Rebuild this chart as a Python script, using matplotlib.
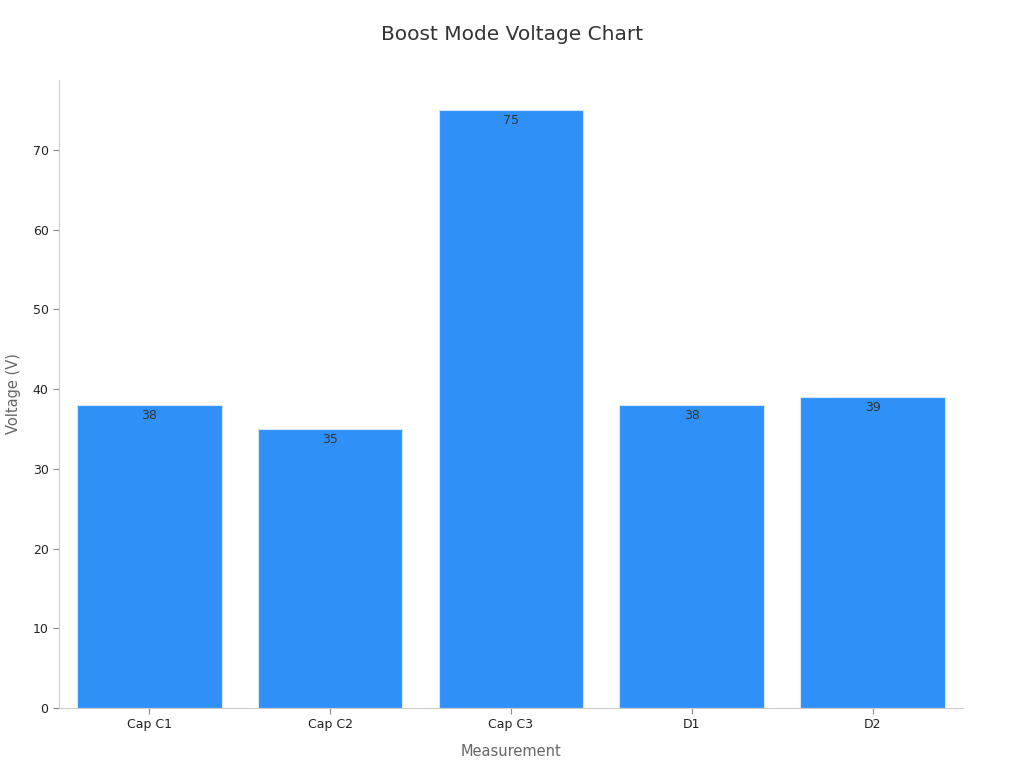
import matplotlib.pyplot as plt

# Datos del gráfico
categorias = ['Cap C1', 'Cap C2', 'Cap C3', 'D1', 'D2']
voltajes = [38, 35, 75, 38, 39]
ticks_y = [0, 10, 20, 30, 40, 50, 60, 70]

fig = plt.figure(figsize=(10.24, 7.68), dpi=100)
ax = fig.add_axes([0.0576, 0.0781, 0.8828, 0.8177])

x = range(len(categorias))
barras = ax.bar(x, voltajes, width=0.8, color='#2f91f8', edgecolor='#d6e6f7', linewidth=0.8)

for xi, v in zip(x, voltajes):
    ax.annotate(str(v), (xi, v), xytext=(0, -3), textcoords='offset points',
                ha='center', va='top', fontsize=9, color='#333333')

ax.set_xlim(-0.5, 4.5)
ax.set_ylim(0, 78.75)
ax.set_xticks(list(x))
ax.set_xticklabels(categorias)
ax.set_yticks(ticks_y)
ax.tick_params(axis='both', labelsize=9, colors='#222222', length=4, color='#888888')

for lado in ['top', 'right']:
    ax.spines[lado].set_visible(False)
for lado in ['left', 'bottom']:
    ax.spines[lado].set_color('#cccccc')

ax.set_xlabel('Measurement', fontsize=10.5, color='#666666', labelpad=9)
ax.set_ylabel('Voltage (V)', fontsize=10.5, color='#666666', labelpad=8)
fig.suptitle('Boost Mode Voltage Chart', fontsize=14.5, color='#333333', y=0.968)

plt.savefig('out.png')
